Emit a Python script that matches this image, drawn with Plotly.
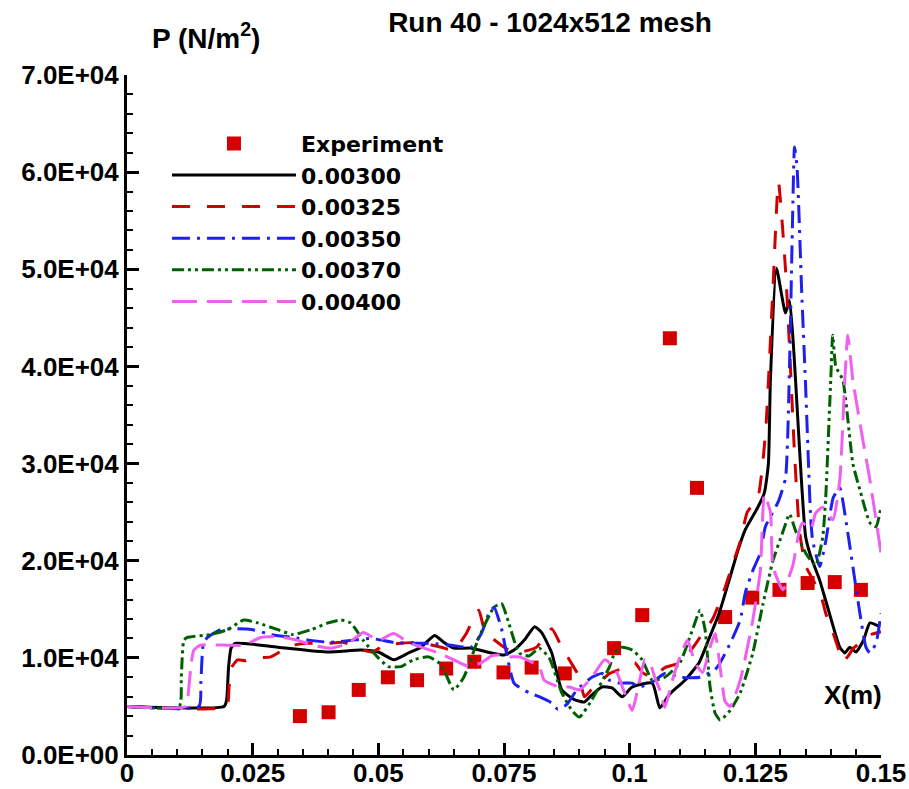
import plotly.graph_objects as go

# ---- axis labels ----
x_tick_vals = [0, 0.025, 0.05, 0.075, 0.1, 0.125, 0.15]
x_tick_text = ["0", "0.025", "0.05", "0.075", "0.1", "0.125", "0.15"]
y_tick_vals = [0, 10000, 20000, 30000, 40000, 50000, 60000, 70000]
y_tick_text = ["0.0E+00", "1.0E+04", "2.0E+04", "3.0E+04", "4.0E+04",
               "5.0E+04", "6.0E+04", "7.0E+04"]

# ---- experimental wall pressure ----
exp_x = [0.0344, 0.0401, 0.0461, 0.0519, 0.0577, 0.0635, 0.0691, 0.0749,
         0.0805, 0.0871, 0.0969, 0.1025, 0.1080, 0.1134, 0.1190, 0.1244,
         0.1298, 0.1354, 0.1408, 0.1460]
exp_p = [4000, 4400, 6700, 8000, 7700, 8900, 9600, 8500,
         9000, 8400, 11000, 14400, 42900, 27500, 14200, 16200,
         17000, 17700, 17800, 17000]

# ---- computed pressure, t = 0.00300 ----
x_300 = [0, 0.0193, 0.0198, 0.0202, 0.0207, 0.0215, 0.030, 0.040, 0.0465, 0.050,
         0.0531, 0.056, 0.0585, 0.0612, 0.063, 0.065, 0.0685, 0.0725, 0.075, 0.077,
         0.079, 0.0811, 0.0825, 0.0845, 0.0865, 0.089, 0.091, 0.0925, 0.0945, 0.0965,
         0.0985, 0.1005, 0.1045, 0.106, 0.108, 0.111, 0.1138, 0.1158, 0.1178, 0.1198,
         0.1215, 0.123, 0.1255, 0.1268, 0.1276, 0.128, 0.1292, 0.131, 0.1318, 0.1326,
         0.1334, 0.1342, 0.135, 0.136, 0.1378, 0.1395, 0.1418, 0.1428, 0.1438, 0.145,
         0.1465, 0.1478, 0.1498]
p_300 = [5000, 5000, 5600, 9000, 11000, 11500, 11100, 10600, 10800, 10600,
         9800, 10500, 11100, 12300, 11600, 11000, 11000, 10500, 10300, 10800,
         11800, 13200, 12600, 10500, 6700, 5700, 5450, 6200, 7000, 6900,
         6000, 7000, 7400, 4850, 6300, 7700, 9500, 12000, 14600, 18000,
         21000, 23200, 25500, 27000, 30000, 38600, 50100, 45500, 46800, 42000,
         35000, 28000, 22500, 20500, 18000, 15000, 11100, 10500, 11100, 10600,
         11800, 13600, 13200]

# ---- t = 0.00325 ----
x_325 = [0, 0.0198, 0.0203, 0.0208, 0.022, 0.0235, 0.0252, 0.0286, 0.031, 0.033,
         0.036, 0.040, 0.043, 0.047, 0.049, 0.051, 0.0545, 0.058, 0.0625, 0.065,
         0.0675, 0.069, 0.070, 0.0711, 0.0725, 0.075, 0.077, 0.080, 0.0815, 0.083,
         0.0845, 0.0865, 0.088, 0.090, 0.091, 0.0925, 0.0945, 0.096, 0.099, 0.101,
         0.1025, 0.1045, 0.107, 0.110, 0.1125, 0.1145, 0.1165, 0.1185, 0.1204, 0.122,
         0.1234, 0.1255, 0.127, 0.1285, 0.1296, 0.131, 0.1318, 0.1328, 0.1338, 0.135,
         0.1365, 0.138, 0.139, 0.1405, 0.1418, 0.1424, 0.1435, 0.1445, 0.146, 0.148,
         0.150]
p_325 = [5000, 5000, 7000, 9000, 9800, 9700, 10000, 10100, 10800, 11300,
         11500, 11500, 11600, 10800, 10600, 11300, 11500, 11600, 11100, 10800,
         12500, 14200, 14900, 12900, 12100, 11100, 10500, 10800, 11100, 12100,
         13000, 11100, 9800, 8000, 6000, 6800, 7700, 8400, 9000, 9500,
         8500, 8000, 9000, 9500, 11000, 12500, 14000, 16500, 19500, 22000,
         25000, 26500, 33000, 48000, 59000, 50000, 42000, 31000, 23000, 19500,
         18000, 16500, 14600, 12500, 10500, 9600, 10200, 11000, 11600, 12400,
         12700]

# ---- t = 0.00350 ----
x_350 = [0, 0.0143, 0.0147, 0.0152, 0.016, 0.0186, 0.022, 0.025, 0.0286, 0.033,
         0.0365, 0.0405, 0.0445, 0.0485, 0.053, 0.0565, 0.0605, 0.0645, 0.0685, 0.0705,
         0.072, 0.073, 0.0745, 0.0755, 0.077, 0.080, 0.082, 0.0845, 0.0857, 0.0875,
         0.0895, 0.0925, 0.0945, 0.096, 0.098, 0.1005, 0.102, 0.1045, 0.107, 0.110,
         0.114, 0.117, 0.118, 0.120, 0.122, 0.123, 0.1245, 0.126, 0.127, 0.1295,
         0.131, 0.1318, 0.1324, 0.1328, 0.1333, 0.1342, 0.135, 0.1355, 0.136, 0.1364,
         0.1378, 0.139, 0.1405, 0.1418, 0.143, 0.145, 0.1458, 0.147, 0.1478, 0.149,
         0.150]
p_350 = [5000, 5000, 7500, 11500, 12100, 12900, 13000, 12900, 12400, 12100,
         11800, 11600, 11800, 12000, 11600, 11500, 11500, 11300, 11100, 12500,
         14600, 15200, 13000, 10500, 7400, 6400, 6000, 5350, 4700, 5200,
         6700, 8000, 8400, 7700, 7400, 7400, 7000, 7500, 8400, 8000,
         8000, 8800, 9500, 11500, 13900, 16700, 19000, 20800, 23500, 26000,
         28500, 40000, 55000, 62600, 60500, 48000, 38000, 31000, 24500, 22100,
         19400, 22000, 26500, 27500, 24200, 17300, 14600, 11100, 10500, 11500,
         14600]

# ---- t = 0.00370 ----
x_370 = [0, 0.0104, 0.0108, 0.0113, 0.012, 0.0166, 0.020, 0.0232, 0.026, 0.030,
         0.033, 0.0366, 0.040, 0.0425, 0.0445, 0.047, 0.050, 0.052, 0.0545, 0.057,
         0.060, 0.0625, 0.065, 0.067, 0.070, 0.073, 0.0745, 0.076, 0.078, 0.080,
         0.082, 0.084, 0.0865, 0.0885, 0.090, 0.0925, 0.096, 0.097, 0.0985, 0.1005,
         0.1025, 0.1045, 0.107, 0.110, 0.1125, 0.114, 0.115, 0.116, 0.117, 0.118,
         0.120, 0.122, 0.1245, 0.1265, 0.1285, 0.1305, 0.1318, 0.133, 0.135, 0.137,
         0.1384, 0.139, 0.140, 0.1404, 0.141, 0.1424, 0.1444, 0.1458, 0.1478, 0.149,
         0.150]
p_370 = [5000, 5000, 8000, 11800, 12100, 12400, 12900, 13900, 13600, 12900,
         12400, 12900, 13600, 13900, 13600, 11800, 10000, 9100, 9100, 9800,
         10100, 9300, 6700, 8000, 12100, 15200, 15600, 13500, 10500, 10200,
         11000, 10000, 6400, 4600, 3900, 5700, 9100, 10500, 11100, 10800,
         9800, 7700, 8000, 9500, 12900, 14900, 12900, 7000, 4300, 3600,
         4600, 6400, 10500, 15500, 20000, 23000, 24800, 23100, 20800, 19500,
         22400, 26500, 38600, 43200, 40000, 38600, 30000, 27300, 23900, 23500,
         25500]

# ---- t = 0.00400 ----
x_400 = [0, 0.0118, 0.0122, 0.0128, 0.0133, 0.0146, 0.020, 0.0232, 0.0266, 0.030,
         0.034, 0.037, 0.0405, 0.044, 0.047, 0.050, 0.053, 0.056, 0.0585, 0.062,
         0.065, 0.068, 0.0705, 0.0725, 0.074, 0.076, 0.078, 0.082, 0.083, 0.086,
         0.088, 0.090, 0.0925, 0.095, 0.097, 0.099, 0.1005, 0.102, 0.103, 0.104,
         0.105, 0.106, 0.107, 0.1085, 0.110, 0.1115, 0.113, 0.1145, 0.116, 0.117,
         0.118, 0.119, 0.120, 0.122, 0.1245, 0.126, 0.1268, 0.128, 0.1285, 0.1305,
         0.1324, 0.1338, 0.1344, 0.136, 0.137, 0.1384, 0.1404, 0.1418, 0.1428, 0.1434,
         0.1444, 0.1464, 0.1478, 0.150]
p_400 = [5000, 5000, 6400, 9500, 10800, 11300, 11300, 11300, 12100, 12200,
         11800, 11300, 11000, 11500, 12600, 11800, 12500, 11600, 11100, 10500,
         9800, 9100, 9500, 10200, 10300, 10100, 10100, 9100, 7700, 7000,
         7000, 6700, 8000, 9800, 9000, 6400, 4600, 7700, 9800, 9500,
         8000, 6700, 4900, 7700, 10100, 11800, 9500, 8500, 11100, 12500,
         9000, 5500, 5000, 7700, 13900, 19000, 26800, 25000, 19400, 17000,
         19400, 23200, 23900, 23200, 24900, 25500, 24200, 28300, 38600, 43200,
         38600, 32400, 28300, 20800]

FONT = "Liberation Sans, Arial, sans-serif"
LEGEND_FONT = "DejaVu Sans, Liberation Sans, sans-serif"

series = [
    ("0.00300", x_300, p_300, "#000000", "solid"),
    ("0.00325", x_325, p_325, "#d00000", "18px,17px"),
    ("0.00350", x_350, p_350, "#1f1fee", "18px,7px,3px,7px"),
    ("0.00370", x_370, p_370, "#006000", "12px,4px,3px,4px,3px,4px"),
    ("0.00400", x_400, p_400, "#f060f0", "25px,10px"),
]

fig = go.Figure()

fig.add_trace(go.Scatter(
    x=exp_x, y=exp_p, mode="markers", name="Experiment",
    marker=dict(symbol="square", size=14, color="#d40000"),
))

for name, xs, ps, color, dash in series:
    fig.add_trace(go.Scatter(
        x=xs, y=ps, mode="lines", name=name,
        line=dict(color=color, width=3, dash=dash, shape="spline", smoothing=0.5),
    ))

fig.update_layout(
    width=909, height=789,
    margin=dict(l=127, r=28, t=75, b=34, autoexpand=False),
    paper_bgcolor="white", plot_bgcolor="white",
    font=dict(family=FONT, size=26, color="black", weight="bold"),
    title=dict(text="Run 40 - 1024x512 mesh", x=550 / 909, xanchor="center",
               y=1 - 22 / 789, yanchor="middle", automargin=False,
               font=dict(family=FONT, size=28, weight="bold")),
    showlegend=True,
    legend=dict(x=0.053, y=0.93, xanchor="left", yanchor="top",
                bgcolor="rgba(0,0,0,0)", borderwidth=0, itemwidth=124,
                tracegroupgap=0,
                font=dict(family=LEGEND_FONT, size=22, weight="bold")),
    xaxis=dict(range=[0, 0.15], showline=True, linecolor="black", linewidth=3,
               showgrid=False, zeroline=False, mirror=False, automargin=False,
               tickmode="array", tickvals=x_tick_vals, ticktext=x_tick_text,
               ticks="inside", ticklen=12, tickwidth=3, tickcolor="black",
               ticklabelstandoff=-7,
               tickfont=dict(family=FONT, size=26, weight="bold"),
               minor=dict(tickmode="linear", tick0=0, dtick=0.005, ticks="inside",
                          ticklen=6, tickwidth=1.5, tickcolor="black", showgrid=False)),
    yaxis=dict(range=[0, 70000], showline=True, linecolor="black", linewidth=3,
               showgrid=False, zeroline=False, mirror=False, automargin=False,
               tickmode="array", tickvals=y_tick_vals, ticktext=y_tick_text,
               ticks="inside", ticklen=12, tickwidth=3, tickcolor="black",
               tickfont=dict(family=FONT, size=26, weight="bold"),
               minor=dict(tickmode="linear", tick0=0, dtick=2000, ticks="inside",
                          ticklen=6, tickwidth=1.5, tickcolor="black", showgrid=False)),
    annotations=[
        dict(text="P (N/m<sup>2</sup>)", xref="paper", yref="paper",
             x=0.105, y=1.057, xanchor="center", yanchor="middle", showarrow=False,
             font=dict(family=FONT, size=28, weight="bold")),
        dict(text="X(m)", xref="paper", yref="paper",
             x=0.963, y=0.088, xanchor="center", yanchor="middle", showarrow=False,
             font=dict(family=FONT, size=26, weight="bold")),
    ],
)

fig.write_html("out.html")
